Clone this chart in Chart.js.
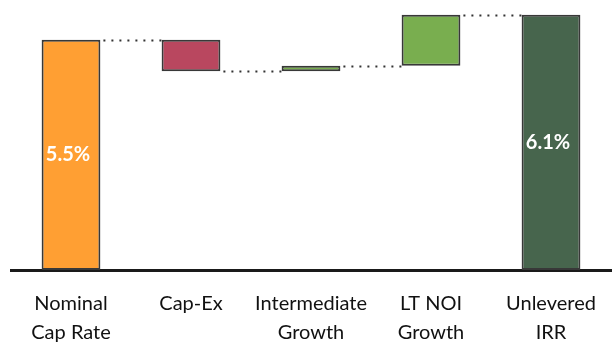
<!DOCTYPE html>
<html><head><meta charset="utf-8">
<script src="https://cdn.jsdelivr.net/npm/chart.js@4"></script>
<style>html,body{margin:0;padding:0;overflow:hidden;background:#fff;width:616px;height:342px}</style>
</head><body>
<canvas id="c" width="616" height="366"></canvas>
<script>
const categories = [["Nominal","Cap Rate"],"Cap-Ex",["Intermediate","Growth"],["LT NOI","Growth"],["Unlevered","IRR"]];
const stepValues = [5.5, -0.75, 0.13, 1.22, 6.1];
const isTotal = [true, false, false, false, true];
const valueLabels = ["5.5%", "", "", "", "6.1%"];
const barColors = ["#FF9F33", "#B9475F", "#79AE4F", "#79AE4F", "#47654D"];

let run = 0;
const ranges = stepValues.map((v, i) => {
  if (isTotal[i]) { run = v; return [0, v]; }
  const r = [run, run + v]; run += v; return r;
});

const connectorPlugin = {
  id: 'connectors',
  afterDatasetsDraw(chart) {
    const ctx = chart.ctx, meta = chart.getDatasetMeta(0), y = chart.scales.y;
    ctx.save();
    ctx.strokeStyle = '#333'; ctx.lineWidth = 2; ctx.setLineDash([2, 6]);
    for (let i = 0; i < ranges.length - 1; i++) {
      const endVal = ranges[i][1];
      const a = meta.data[i], b = meta.data[i + 1];
      const yy = Math.round(y.getPixelForValue(endVal)) + 0.5;
      ctx.beginPath();
      ctx.moveTo(a.x + a.width / 2 + 3, yy);
      ctx.lineTo(b.x - b.width / 2, yy);
      ctx.stroke();
    }
    ctx.restore();
    ctx.save();
    ctx.fillStyle = '#fff'; ctx.font = 'bold 20px Lato'; ctx.textAlign = 'center'; ctx.textBaseline = 'middle';
    meta.data.forEach((bar, i) => {
      if (!valueLabels[i]) return;
      ctx.fillText(valueLabels[i], bar.x - 3, (bar.y + bar.base) / 2);
    });
    ctx.restore();
  }
};

new Chart(document.getElementById('c'), {
  type: 'bar',
  data: {
    labels: categories,
    datasets: [{
      data: ranges,
      backgroundColor: barColors,
      borderColor: '#383838',
      borderWidth: 2,
      borderSkipped: false,
      barPercentage: 0.49,
      categoryPercentage: 1.0
    }]
  },
  options: {
    responsive: false,
    animation: false,
    layout: { padding: { left: 11, right: 5, top: 0, bottom: 0 } },
    plugins: { legend: { display: false }, tooltip: { enabled: false } },
    scales: {
      x: {
        grid: { display: false, drawTicks: false },
        border: { display: true, color: '#1a1a1a', width: 3 },
        ticks: { color: '#111', padding: 19, maxRotation: 0, autoSkip: false,
          font: { family: 'Lato', size: 20, lineHeight: 1.45 } }
      },
      y: { display: false, min: 0, max: 6.45 }
    }
  },
  plugins: [connectorPlugin]
});
</script>
</body></html>
